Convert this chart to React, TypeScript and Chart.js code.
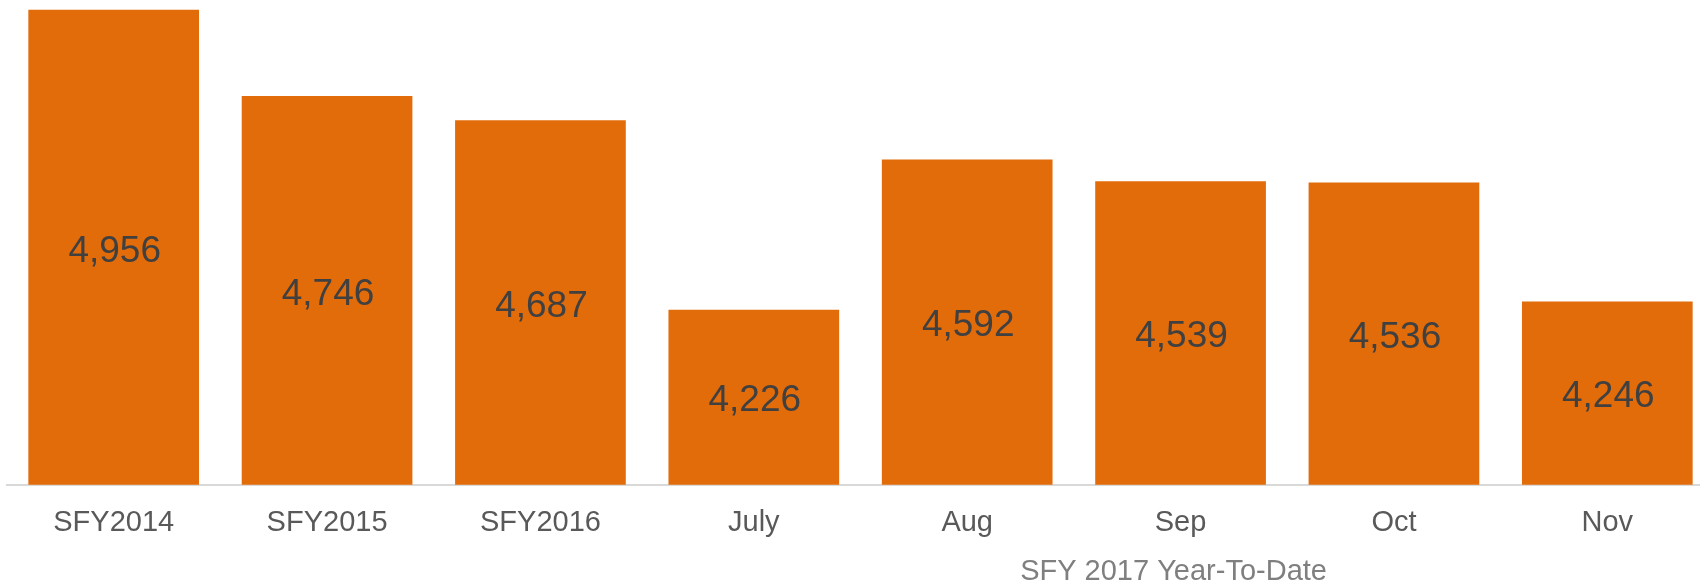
import React, { useEffect, useRef } from "react";
import { Chart, registerables } from "chart.js";

Chart.register(...registerables);

const categories = ["SFY2014", "SFY2015", "SFY2016", "July", "Aug", "Sep", "Oct", "Nov"];
const values = [4956, 4746, 4687, 4226, 4592, 4539, 4536, 4246];
const groupTitle = "SFY 2017 Year-To-Date";
const groupStartIndex = 3;

const FONT = "'Liberation Sans', Arial, sans-serif";

function fmt(v: number) {
  return String(v).replace(/\B(?=(\d{3})+(?!\d))/g, ",");
}

const labelsPlugin = {
  id: "barLabels",
  afterDraw(chart: any) {
    const ctx = chart.ctx;
    const meta = chart.getDatasetMeta(0);
    const ys = chart.scales.y;
    const size = 37;
    ctx.save();
    ctx.font = `${size}px ${FONT}`;
    ctx.fillStyle = "#404040";
    ctx.textAlign = "center";
    ctx.textBaseline = "alphabetic";
    meta.data.forEach((bar: any, i: number) => {
      const p = bar.getProps(["x"], true);
      const top = ys.getPixelForValue(values[i]);
      const bottom = ys.bottom;
      const y = (top + bottom) / 2 + size * 0.716 / 2 + 1;
      ctx.fillText(fmt(values[i]), p.x + 1, y);
    });
    ctx.restore();

    const xs = chart.scales.x;
    const pitch = xs.width / categories.length;
    const x0 = xs.getPixelForValue(groupStartIndex) - pitch / 2;
    const cx = (x0 + 1700) / 2;
    ctx.save();
    ctx.font = `29px ${FONT}`;
    ctx.fillStyle = "#7f7f7f";
    ctx.textAlign = "center";
    ctx.textBaseline = "alphabetic";
    ctx.fillText(groupTitle, cx, 579.5);
    ctx.restore();
  },
};

export default function App() {
  const ref = useRef<HTMLCanvasElement>(null);
  useEffect(() => {
    if (!ref.current) return;
    const chart = new Chart(ref.current, {
      type: "bar",
      data: {
        labels: categories,
        datasets: [
          {
            data: values,
            backgroundColor: "#E36C0A",
            borderWidth: 0,
            barPercentage: 0.8,
            categoryPercentage: 1,
          },
        ],
      },
      options: {
        responsive: false,
        animation: false,
        devicePixelRatio: 1,
        layout: { padding: { left: 7, right: 0, top: 0, bottom: 25.5 } },
        plugins: { legend: { display: false }, tooltip: { enabled: false }, title: { display: false } },
        scales: {
          y: { display: false, min: 3800, max: 4980 },
          x: {
            grid: { display: false, drawTicks: false },
            border: { display: true, color: "#d9d9d9", width: 2 },
            ticks: { padding: 20.5, color: "#595959", font: { family: FONT, size: 29 } },
          },
        },
      },
      plugins: [labelsPlugin],
    });
    return () => chart.destroy();
  }, []);
  return (
    <div style={{ position: "absolute", left: 0, top: 0, width: 1700, height: 586, overflow: "hidden", background: "#fff" }}>
      <canvas ref={ref} width={1714} height={586} style={{ width: 1714, height: 586, display: "block" }} />
    </div>
  );
}
